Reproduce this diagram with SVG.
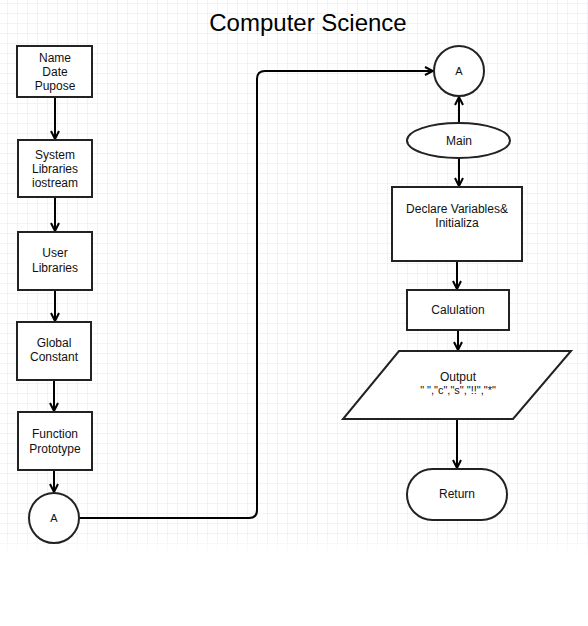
<svg xmlns="http://www.w3.org/2000/svg" width="588" height="626" viewBox="0 0 588 626">
<defs>
<pattern id="grid" x="7" y="3" width="10" height="10" patternUnits="userSpaceOnUse">
<path d="M0 0 V10 M0 0 H10" fill="none" stroke="#e6e6f0" stroke-width="1"/>
</pattern>
<linearGradient id="fade" x1="0" y1="0" x2="0" y2="1">
<stop offset="0" stop-color="#fff" stop-opacity="0"/>
<stop offset="1" stop-color="#fff" stop-opacity="1"/>
</linearGradient>
<marker id="arr" viewBox="0 0 10 10" refX="9" refY="5" markerWidth="10" markerHeight="10" markerUnits="userSpaceOnUse" orient="auto">
<path d="M1 1 L9 5 L1 9" fill="none" stroke="#000" stroke-width="2"/>
</marker>
</defs>
<style>
.box{fill:#fff;stroke:#222;stroke-width:2}
.c{fill:none;stroke:#000;stroke-width:2}
.t{font-family:"Liberation Sans",Arial,sans-serif;font-size:12px;fill:#111;text-anchor:middle}
.s{font-size:11px}
</style>
<rect x="0" y="0" width="588" height="555" fill="url(#grid)"/>
<rect x="0" y="535" width="588" height="20" fill="url(#fade)"/>
<text x="308" y="31" font-family="Liberation Sans,Arial,sans-serif" font-size="24" text-anchor="middle" fill="#000">Computer Science</text>
<g id="connectors">
<path class="c" d="M55 97 V139" marker-end="url(#arr)"/>
<path class="c" d="M55 197 V231" marker-end="url(#arr)"/>
<path class="c" d="M55 290 V321" marker-end="url(#arr)"/>
<path class="c" d="M54 380 V411" marker-end="url(#arr)"/>
<path class="c" d="M54 470 V492" marker-end="url(#arr)"/>
<path class="c" d="M79 518 H249 Q257 518 257 510 V79 Q257 71 265 71 H433" marker-end="url(#arr)"/>
<path class="c" d="M459 123 V97" marker-end="url(#arr)"/>
<path class="c" d="M459 158 V186" marker-end="url(#arr)"/>
<path class="c" d="M457 261 V289" marker-end="url(#arr)"/>
<path class="c" d="M458 330 V350" marker-end="url(#arr)"/>
<path class="c" d="M457 419 V468" marker-end="url(#arr)"/>
</g>
<g id="n-name"><rect class="box" x="17" y="46" width="75" height="51"/><text class="t" x="55" y="62">Name</text><text class="t" x="55" y="76">Date</text><text class="t" x="55" y="90">Pupose</text></g>
<g id="n-syslib"><rect class="box" x="18" y="140" width="74" height="57"/><text class="t" x="55" y="159">System</text><text class="t" x="55" y="173">Libraries</text><text class="t" x="55" y="187">iostream</text></g>
<g id="n-userlib"><rect class="box" x="18" y="232" width="74" height="58"/><text class="t" x="55" y="257">User</text><text class="t" x="55" y="272">Libraries</text></g>
<g id="n-global"><rect class="box" x="17" y="322" width="74" height="58"/><text class="t" x="54" y="347">Global</text><text class="t" x="54" y="361">Constant</text></g>
<g id="n-proto"><rect class="box" x="18" y="412" width="74" height="58"/><text class="t" x="55" y="438">Function</text><text class="t" x="55" y="453">Prototype</text></g>
<g id="n-a1"><circle class="box" cx="54" cy="518" r="25"/><text class="t s" x="54" y="522">A</text></g>
<g id="n-a2"><circle class="box" cx="459" cy="71" r="25"/><text class="t s" x="459" y="75">A</text></g>
<g id="n-main"><ellipse class="box" cx="458.5" cy="140.5" rx="51.5" ry="17.5"/><text class="t" x="459" y="145">Main</text></g>
<g id="n-declare"><rect class="box" x="392" y="187" width="130" height="74"/><text class="t" x="457" y="213">Declare Variables&amp;</text><text class="t" x="457" y="227">Initializa</text></g>
<g id="n-calc"><rect class="box" x="407" y="290" width="102" height="40"/><text class="t" x="458" y="314">Calulation</text></g>
<g id="n-output"><polygon class="box" points="399,351 571,351 513,419 343,419"/><text class="t" x="458" y="381">Output</text><text class="t s" x="458" y="394">" ","c","s","!!","*"</text></g>
<g id="n-return"><rect class="box" x="407" y="469" width="100" height="51" rx="25.5"/><text class="t" x="457" y="498">Return</text></g>
</svg>
